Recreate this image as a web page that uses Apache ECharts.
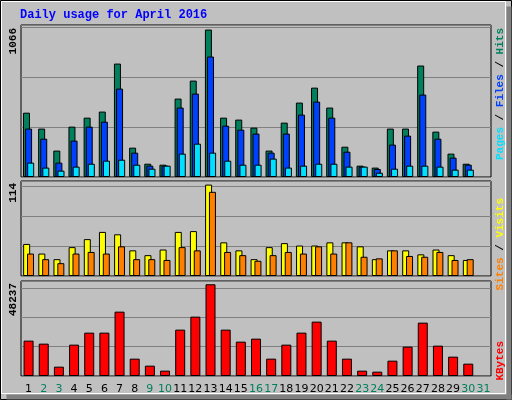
<!DOCTYPE html><html><head><meta charset="utf-8"><script src="https://cdn.jsdelivr.net/npm/echarts@6/dist/echarts.min.js"></script>
<style>html,body{margin:0;padding:0;background:#c0c0c0}#c{width:512px;height:400px}</style></head><body><div id="c"></div><script>
const days = ['1','2','3','4','5','6','7','8','9','10','11','12','13','14','15','16','17','18','19','20','21','22','23','24','25','26','27','28','29','30','31'];
const weekend = ['2','3','9','10','16','17','23','24','30','31'];
const hits = [465,350,191,364,429,473,820,212,96,89,567,697,1066,429,415,357,191,393,538,646,502,219,82,68,350,350,806,328,169,96,null];
const files = [350,277,104,263,364,400,639,176,82,82,502,603,871,371,342,314,176,314,451,545,429,183,75,58,234,299,596,277,140,89,null];
const pages = [104,68,46,75,96,118,125,89,60,82,169,241,176,118,89,89,133,68,82,96,96,75,75,31,60,82,82,75,53,53,null];
const visits = [40,28,21,36,46,55,52,32,26,33,55,56,114,42,32,21,36,41,38,38,42,42,37,21,32,32,27,33,26,20,null];
const sites = [28,21,16,28,30,28,37,21,21,20,36,32,105,30,26,19,26,30,28,37,28,42,24,22,32,25,24,30,20,21,null];
const kbytes = [18593,17014,4911,16488,22802,22802,33852,9121,5437,2806,24381,31221,48237,24381,18066,19645,9121,16488,22802,28590,18593,9121,2806,2280,8068,15435,28064,15961,10173,6490,null];
const maxLabels = ['1066','114','48237'];

const grids=[{left:21,right:21,top:25,height:152},{left:21,right:21,top:181,height:95},{left:21,right:21,top:281,height:95}];
const ax = (i,show)=>({type:'category',gridIndex:i,data:days,boundaryGap:true,axisTick:{show:false},axisLine:{show:false},
  axisLabel:{show:show,margin:8,fontFamily:'DejaVu Sans',fontSize:11,interval:0,color:(v)=>weekend.includes(v)?'#00805c':'#000'}});
const ay = (i,max,intv)=>({type:'value',gridIndex:i,min:0,max:max,interval:intv,axisLabel:{show:false},axisLine:{show:false},axisTick:{show:false},
  splitLine:{lineStyle:{color:'#808080',width:1}}});
const bs = (name,data,xi,color,w,gap)=>({type:'bar',name,data,xAxisIndex:xi,yAxisIndex:xi,barWidth:w,barGap:gap,
  itemStyle:{color,borderColor:'#000',borderWidth:1},animation:false});
const lbl=(x,y,rich,txt)=>({type:'text',x,y,rotation:Math.PI/2,style:{text:txt,rich,align:'right',verticalAlign:'middle',font:'bold 11px "Liberation Mono", monospace'}});
const chart=echarts.init(document.getElementById('c'));
chart.setOption({
 backgroundColor:'#c0c0c0',animation:false,
 grid:grids.map(g=>Object.assign({show:true,borderColor:'#000',borderWidth:1,backgroundColor:'#c0c0c0'},g)),
 xAxis:[ax(0,false),ax(1,false),ax(2,true)],
 yAxis:[ay(0,1099,361),ay(1,118.5,37.2),ay(2,49970,15470)],
 series:[bs('Hits',hits,0,'#00805c',7,'-70%'),bs('Files',files,0,'#0040ff',7,'-70%'),bs('Pages',pages,0,'#00e0ff',7,'-70%'),
   bs('Visits',visits,1,'#ffff00',7,'-45%'),bs('Sites',sites,1,'#ff8000',7,'-45%'),
   bs('KBytes',kbytes,2,'#ff0000',10,'0%')],
 graphic:[
  {type:'rect',shape:{x:0.5,y:0.5,width:511,height:399},style:{fill:null,stroke:'#000',lineWidth:1}},
  {type:'rect',shape:{x:1.5,y:1.5,width:504,height:392},style:{fill:null,stroke:'#fff',lineWidth:1}},
  {type:'rect',shape:{x:6.5,y:394.5,width:505,height:5},style:{fill:'#808080'}},
  {type:'rect',shape:{x:506.5,y:6.5,width:5,height:393},style:{fill:'#808080'}},
  {type:'text',x:20,y:9,style:{text:'Daily usage for April 2016',fill:'#0000ff',font:'bold 12px "Liberation Mono", monospace'}},
  lbl(13,28,{},maxLabels[0]),lbl(13,183,{},maxLabels[1]),lbl(13,283,{},maxLabels[2]),
  lbl(500,28,{p:{fill:'#00e0ff'},f:{fill:'#0040ff'},h:{fill:'#00805c'},s:{fill:'#000'}},'{p|Pages}{s| / }{f|Files}{s| / }{h|Hits}'),
  lbl(500,198,{v:{fill:'#ffff00'},si:{fill:'#ff8000'},s:{fill:'#000'}},'{si|Sites}{s| / }{v|Visits}'),
  lbl(500,341,{k:{fill:'#ff0000'}},'{k|KBytes}')
 ].map(g=>{if(g.type==='text'&&!g.style.fill&&!g.style.rich)g.style.fill='#000';return g;})
});
</script></body></html>
